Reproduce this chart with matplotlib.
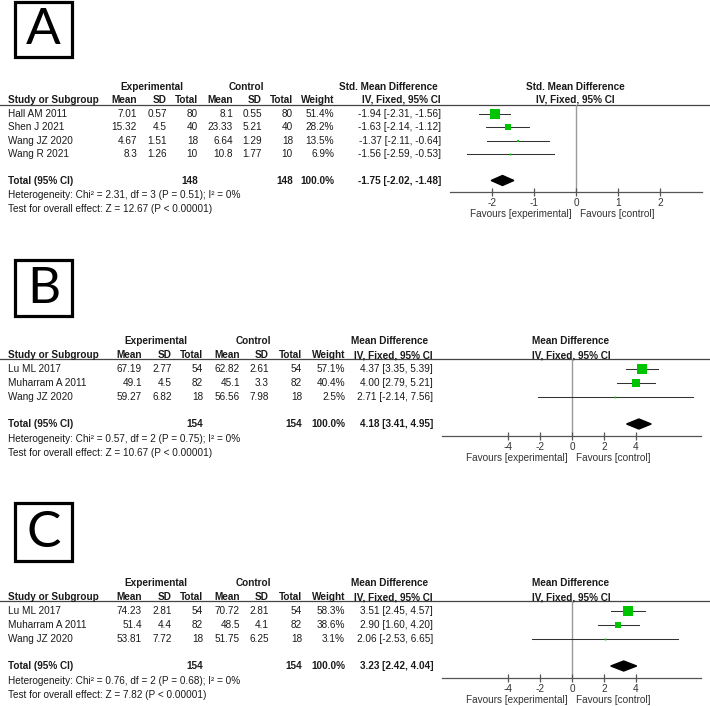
import matplotlib
matplotlib.use("Agg")
import matplotlib.pyplot as plt
from matplotlib.patches import Rectangle, Polygon

plt.rcParams['font.family'] = ['Liberation Sans', 'DejaVu Sans']
plt.rcParams['axes.unicode_minus'] = False

# ---------------- Data ----------------
# Panel A
a_studies = ["Hall AM 2011", "Shen J 2021", "Wang JZ 2020", "Wang R 2021"]
a_exp_mean = [7.01, 15.32, 4.67, 8.3]
a_exp_sd = [0.57, 4.5, 1.51, 1.26]
a_exp_n = [80, 40, 18, 10]
a_ctl_mean = [8.1, 23.33, 6.64, 10.8]
a_ctl_sd = [0.55, 5.21, 1.29, 1.77]
a_ctl_n = [80, 40, 18, 10]
a_weight = [51.4, 28.2, 13.5, 6.9]
a_effect = [-1.94, -1.63, -1.37, -1.56]
a_lo = [-2.31, -2.14, -2.11, -2.59]
a_hi = [-1.56, -1.12, -0.64, -0.53]
a_total = [148, 148]
a_total_eff = [-1.75, -2.02, -1.48]
a_het = "Heterogeneity: Chi² = 2.31, df = 3 (P = 0.51); I² = 0%"
a_test = "Test for overall effect: Z = 12.67 (P < 0.00001)"
a_ticks = [-2, -1, 0, 1, 2]

# Panel B
b_studies = ["Lu ML 2017", "Muharram A 2011", "Wang JZ 2020"]
b_exp_mean = [67.19, 49.1, 59.27]
b_exp_sd = [2.77, 4.5, 6.82]
b_exp_n = [54, 82, 18]
b_ctl_mean = [62.82, 45.1, 56.56]
b_ctl_sd = [2.61, 3.3, 7.98]
b_ctl_n = [54, 82, 18]
b_weight = [57.1, 40.4, 2.5]
b_effect = [4.37, 4.00, 2.71]
b_lo = [3.35, 2.79, -2.14]
b_hi = [5.39, 5.21, 7.56]
b_total = [154, 154]
b_total_eff = [4.18, 3.41, 4.95]
b_het = "Heterogeneity: Chi² = 0.57, df = 2 (P = 0.75); I² = 0%"
b_test = "Test for overall effect: Z = 10.67 (P < 0.00001)"
b_ticks = [-4, -2, 0, 2, 4]

# Panel C
c_studies = ["Lu ML 2017", "Muharram A 2011", "Wang JZ 2020"]
c_exp_mean = [74.23, 51.4, 53.81]
c_exp_sd = [2.81, 4.4, 7.72]
c_exp_n = [54, 82, 18]
c_ctl_mean = [70.72, 48.5, 51.75]
c_ctl_sd = [2.81, 4.1, 6.25]
c_ctl_n = [54, 82, 18]
c_weight = [58.3, 38.6, 3.1]
c_effect = [3.51, 2.90, 2.06]
c_lo = [2.45, 1.60, -2.53]
c_hi = [4.57, 4.20, 6.65]
c_total = [154, 154]
c_total_eff = [3.23, 2.42, 4.04]
c_het = "Heterogeneity: Chi² = 0.76, df = 2 (P = 0.68); I² = 0%"
c_test = "Test for overall effect: Z = 7.82 (P < 0.00001)"
c_ticks = [-4, -2, 0, 2, 4]

# ---------------- Figure ----------------
W, H = 710, 706
fig = plt.figure(figsize=(W / 100, H / 100), dpi=100)
canvas = fig.add_axes([0, 0, 1, 1])
canvas.set_xlim(0, W)
canvas.set_ylim(H, 0)
canvas.axis('off')

FS = 7.2
TXT = '#1a1a1a'
GREEN = '#00c400'


def fmt(v):
    return str(v)


def draw_panel(letter, box, studies, em, esd, en, cm, csd, cn, wt, eff, lo, hi,
               totals, toteff, het, test, ticks, effect_title,
               y_h1, y_h2, y_line, y_row0, dy, y_total, y_axis,
               cols, exp_c, ctl_c, eff_c, fx0, fx1, xlim, right_c):
    # letter box
    bx0, by0, bx1, by1 = box
    canvas.add_patch(Rectangle((bx0, by0), bx1 - bx0, by1 - by0, fill=False,
                               lw=2.3, ec='black', zorder=3))
    canvas.text((bx0 + bx1) / 2, (by0 + by1) / 2 + 1, letter, ha='center', va='center',
                fontsize=37, family=['Lato', 'DejaVu Sans'], color='black')

    # headers
    canvas.text(exp_c, y_h1, "Experimental", ha='center', va='center', fontsize=FS,
                fontweight='bold', color=TXT)
    canvas.text(ctl_c, y_h1, "Control", ha='center', va='center', fontsize=FS,
                fontweight='bold', color=TXT)
    canvas.text(eff_c, y_h1, effect_title, ha='center', va='center', fontsize=FS,
                fontweight='bold', color=TXT)
    canvas.text(right_c, y_h1, effect_title, ha='center', va='center', fontsize=FS,
                fontweight='bold', color=TXT)
    canvas.text(8, y_h2, "Study or Subgroup", ha='left', va='center', fontsize=FS,
                fontweight='bold', color=TXT)
    heads = ["Mean", "SD", "Total", "Mean", "SD", "Total", "Weight", "IV, Fixed, 95% CI"]
    for h, x in zip(heads, cols):
        canvas.text(x, y_h2, h, ha='right', va='center', fontsize=FS,
                    fontweight='bold', color=TXT)
    canvas.text(right_c, y_h2, "IV, Fixed, 95% CI", ha='center', va='center',
                fontsize=FS, fontweight='bold', color=TXT)
    canvas.plot([0, W], [y_line, y_line], color='#444444', lw=0.9)

    # rows
    ys = []
    for i, s in enumerate(studies):
        y = y_row0 + i * dy
        ys.append(y)
        vals = [fmt(em[i]), fmt(esd[i]), str(en[i]), fmt(cm[i]), fmt(csd[i]),
                str(cn[i]), f"{wt[i]:.1f}%",
                f"{eff[i]:.2f} [{lo[i]:.2f}, {hi[i]:.2f}]"]
        canvas.text(8, y, s, ha='left', va='center', fontsize=FS, color=TXT)
        for v, x in zip(vals, cols):
            canvas.text(x, y, v, ha='right', va='center', fontsize=FS, color=TXT)

    canvas.text(8, y_total, "Total (95% CI)", ha='left', va='center', fontsize=FS,
                fontweight='bold', color=TXT)
    tv = {2: str(totals[0]), 5: str(totals[1]), 6: "100.0%",
          7: f"{toteff[0]:.2f} [{toteff[1]:.2f}, {toteff[2]:.2f}]"}
    for k, v in tv.items():
        canvas.text(cols[k], y_total, v, ha='right', va='center', fontsize=FS,
                    fontweight='bold', color=TXT)
    canvas.text(8, y_total + 14.5, het, ha='left', va='center', fontsize=FS, color=TXT)
    canvas.text(8, y_total + 28.5, test, ha='left', va='center', fontsize=FS, color=TXT)

    # forest axes (y in pixel units)
    ax = fig.add_axes([fx0 / W, 1 - y_axis / H, (fx1 - fx0) / W, (y_axis - y_line) / H])
    ax.set_xlim(*xlim)
    ax.set_ylim(y_axis, y_line)
    ax.patch.set_alpha(0)
    for sp in ['top', 'left', 'right']:
        ax.spines[sp].set_visible(False)
    ax.spines['bottom'].set_color('#555555')
    ax.spines['bottom'].set_linewidth(0.9)
    ax.set_yticks([])
    ax.set_xticks(ticks)
    ax.set_xticklabels([str(t) for t in ticks])
    ax.tick_params(axis='x', direction='inout', length=6, width=0.9, color='#555555',
                   labelsize=FS, labelcolor='#333333', pad=1)
    ax.axvline(0, color='#999999', lw=1.0, zorder=1)
    for i in range(len(studies)):
        ax.plot([lo[i], hi[i]], [ys[i], ys[i]], color='#333333', lw=0.75, zorder=2)
        ms = max(wt[i] * 0.18, 1.8) * 0.72
        ax.plot([eff[i]], [ys[i]], marker='s', ms=ms, color=GREEN, mec=GREEN,
                mew=0, zorder=3, linestyle='none')
    ax.add_patch(Polygon([(toteff[1], y_total), (toteff[0], y_total - 5),
                          (toteff[2], y_total), (toteff[0], y_total + 5)],
                         closed=True, color='black', zorder=3))
    # favours labels
    x0px = fx0 + (0 - xlim[0]) / (xlim[1] - xlim[0]) * (fx1 - fx0)
    canvas.text(x0px - 4, y_axis + 22, "Favours [experimental]", ha='right', va='center',
                fontsize=FS, color='#333333')
    canvas.text(x0px + 4, y_axis + 22, "Favours [control]", ha='left', va='center',
                fontsize=FS, color='#333333')


colsA = [137, 167, 198, 233, 262, 293, 334, 441]
colsBC = [142, 172, 203, 240, 269, 302, 345, 433]

draw_panel("A", (15, 2, 72, 57), a_studies, a_exp_mean, a_exp_sd, a_exp_n,
           a_ctl_mean, a_ctl_sd, a_ctl_n, a_weight, a_effect, a_lo, a_hi,
           a_total, a_total_eff, a_het, a_test, a_ticks, "Std. Mean Difference",
           87, 100, 105, 114, 13.4, 180.5, 192,
           colsA, 152, 246, 388, 450, 702, (-3, 3), 575)

draw_panel("B", (15, 260, 72, 316), b_studies, b_exp_mean, b_exp_sd, b_exp_n,
           b_ctl_mean, b_ctl_sd, b_ctl_n, b_weight, b_effect, b_lo, b_hi,
           b_total, b_total_eff, b_het, b_test, b_ticks, "Mean Difference",
           341, 355, 359, 369, 14, 424, 436,
           colsBC, 156, 253, 390, 442, 701, (-8.125, 8.06), 571)

draw_panel("C", (15, 503, 72, 561), c_studies, c_exp_mean, c_exp_sd, c_exp_n,
           c_ctl_mean, c_ctl_sd, c_ctl_n, c_weight, c_effect, c_lo, c_hi,
           c_total, c_total_eff, c_het, c_test, c_ticks, "Mean Difference",
           583, 597, 601, 611, 14, 666, 678,
           colsBC, 156, 253, 390, 442, 701, (-8.125, 8.06), 571)

fig.savefig("out.png", dpi=100, facecolor='white')
